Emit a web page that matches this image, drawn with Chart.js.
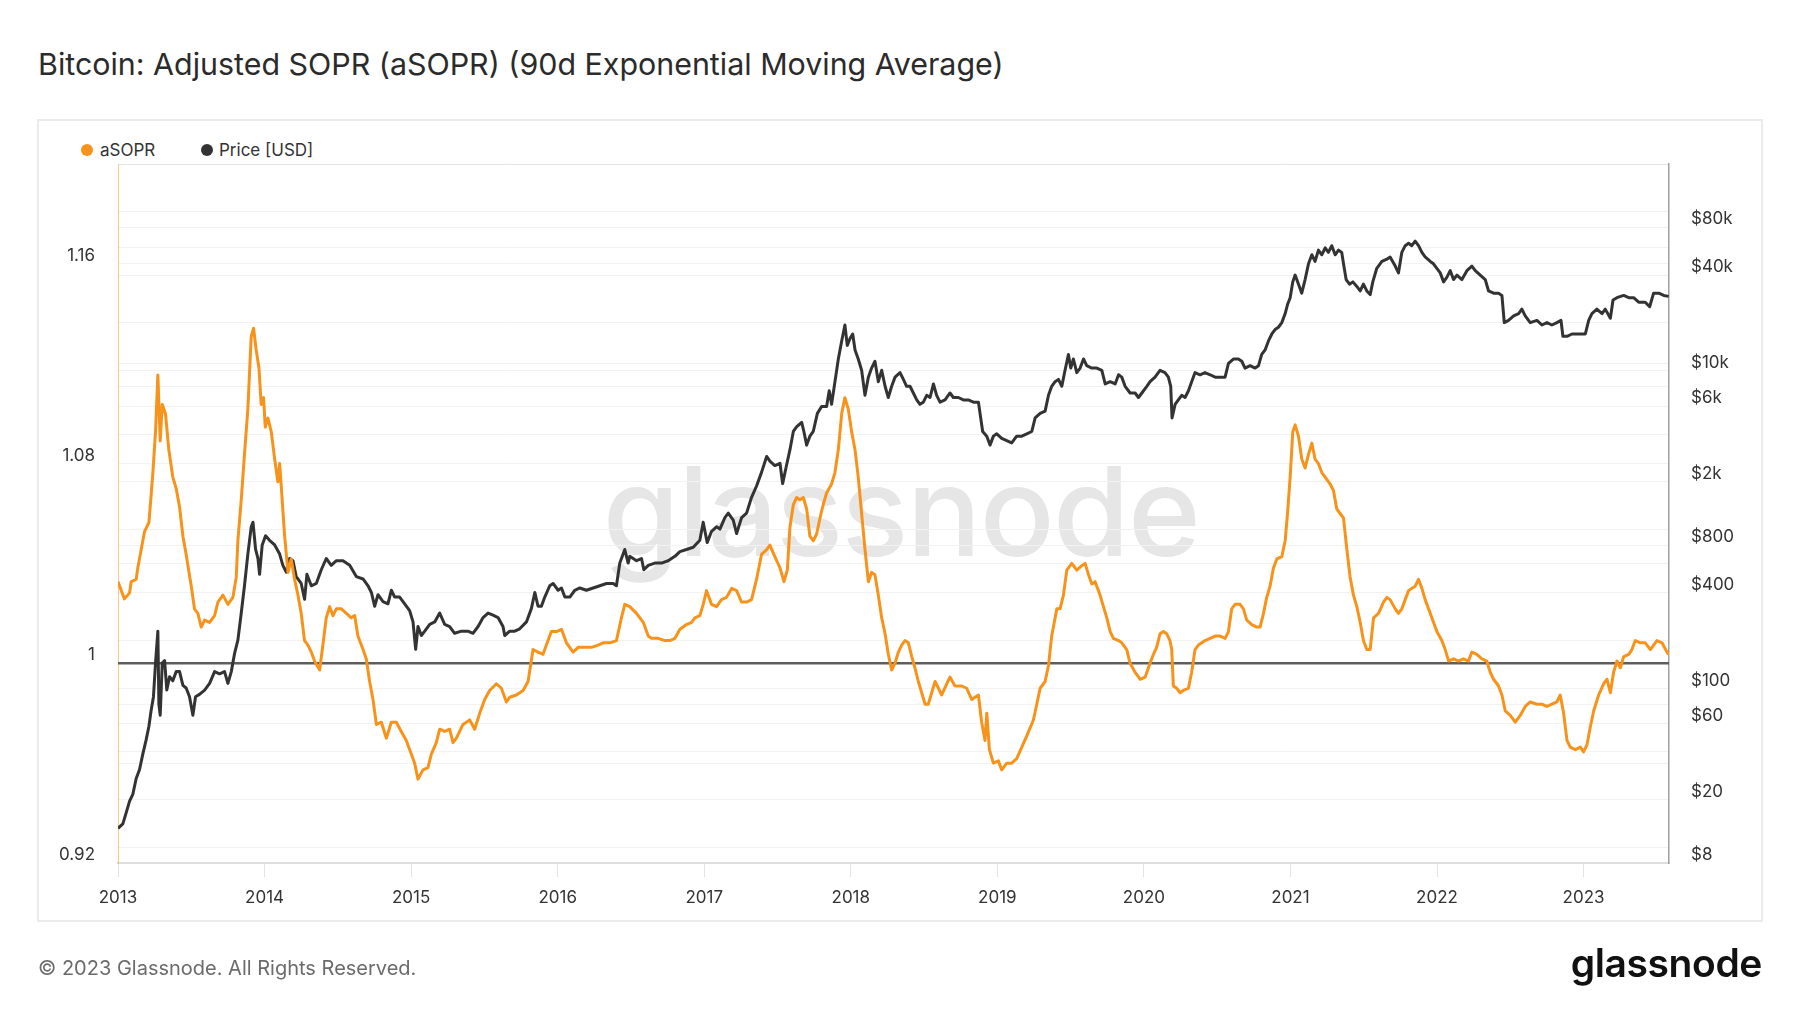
<!DOCTYPE html>
<html>
<head>
<meta charset="utf-8">
<script src="https://cdn.jsdelivr.net/npm/chart.js@4.4.0/dist/chart.umd.min.js"></script>
<style>
  html, body { margin:0; padding:0; background:#fff; }
  body { width:1800px; height:1013px; position:relative; overflow:hidden; font-family:Inter, "Noto Sans", sans-serif; }
  .abs { position:absolute; white-space:nowrap; }
  #title { left:38px; top:49px; font-size:30.4px; line-height:30px; color:#2b2b2b; }
  #box { left:37px; top:119px; width:1726px; height:803px; box-sizing:border-box; border:2px solid #ebebeb; }
  #wm { left:1px; width:1800px; text-align:center; top:449px; font-size:124px; line-height:124px; font-weight:500; color:#e6e6e6; letter-spacing:-1.6px; }
  .dot { position:absolute; width:12px; height:12px; border-radius:50%; }
  .leg { font-size:17px; line-height:17px; color:#333; top:142px; }
  #footer { left:38px; top:958px; font-size:20px; line-height:20px; color:#6b6b6b; }
  #logo { right:38px; top:943px; font-size:39px; line-height:39px; font-weight:600; color:#111; letter-spacing:-0.4px; }
  canvas { position:absolute; left:0; top:0; }
</style>
</head>
<body>
<div id="title" class="abs">Bitcoin: Adjusted SOPR (aSOPR) (90d Exponential Moving Average)</div>
<div id="box" class="abs"></div>
<div id="wm" class="abs">glassnode</div>
<div class="dot" style="left:81px;top:144px;background:#f7931a"></div>
<div class="abs leg" style="left:100px">aSOPR</div>
<div class="dot" style="left:201px;top:144px;background:#333"></div>
<div class="abs leg" style="left:219px">Price [USD]</div>
<canvas id="c" width="1800" height="1013"></canvas>
<div id="footer" class="abs">© 2023 Glassnode. All Rights Reserved.</div>
<div id="logo" class="abs">glassnode</div>
<script>
// ---- data (decimal years) ----
const asoprT = [2013.000,2013.044,2013.079,2013.090,2013.124,2013.135,2013.158,2013.181,2013.211,2013.226,2013.238,2013.256,2013.272,2013.288,2013.302,2013.324,2013.347,2013.374,2013.397,2013.420,2013.443,2013.465,2013.500,2013.522,2013.545,2013.568,2013.591,2013.625,2013.659,2013.682,2013.716,2013.750,2013.784,2013.807,2013.818,2013.841,2013.863,2013.886,2013.909,2013.925,2013.943,2013.962,2013.977,2013.993,2014.005,2014.023,2014.046,2014.069,2014.091,2014.103,2014.114,2014.137,2014.160,2014.182,2014.205,2014.228,2014.250,2014.273,2014.296,2014.319,2014.341,2014.376,2014.398,2014.421,2014.444,2014.467,2014.490,2014.524,2014.558,2014.592,2014.615,2014.637,2014.672,2014.694,2014.717,2014.740,2014.763,2014.797,2014.831,2014.865,2014.899,2014.933,2014.967,2015.002,2015.024,2015.047,2015.081,2015.115,2015.138,2015.172,2015.195,2015.229,2015.263,2015.286,2015.309,2015.354,2015.400,2015.434,2015.468,2015.502,2015.536,2015.582,2015.616,2015.650,2015.673,2015.718,2015.764,2015.798,2015.832,2015.866,2015.900,2015.923,2015.957,2015.992,2016.026,2016.060,2016.105,2016.140,2016.185,2016.231,2016.276,2016.310,2016.356,2016.401,2016.435,2016.458,
2016.492,2016.538,2016.584,2016.618,2016.640,2016.686,2016.731,2016.766,2016.800,2016.834,2016.879,2016.914,2016.936,2016.970,2016.993,2017.016,2017.050,2017.084,2017.118,2017.152,2017.187,2017.221,2017.255,2017.289,2017.323,2017.357,2017.391,2017.426,2017.448,2017.482,2017.517,2017.544,2017.567,2017.585,2017.608,2017.630,2017.653,2017.676,2017.699,2017.721,2017.744,2017.767,2017.790,2017.812,2017.835,2017.869,2017.892,2017.915,2017.938,2017.960,2017.983,2018.006,2018.029,2018.051,2018.074,2018.097,2018.120,2018.142,2018.165,2018.188,2018.211,2018.234,2018.256,2018.279,2018.302,2018.325,2018.347,2018.370,2018.393,2018.416,2018.438,2018.461,2018.484,2018.507,2018.529,2018.552,2018.575,2018.598,2018.620,2018.655,2018.677,2018.711,2018.757,2018.791,2018.825,2018.871,2018.893,2018.916,2018.928,2018.946,2018.973,2019.007,2019.030,2019.064,2019.098,2019.132,2019.167,2019.201,2019.246,2019.269,2019.292,2019.326,2019.349,2019.371,2019.406,2019.428,2019.451,2019.474,2019.508,2019.542,2019.576,2019.599,2019.622,2019.645,2019.667,2019.701,2019.724,2019.747,2019.770,2019.792,2019.827,2019.849,2019.883,2019.906,2019.940,2019.975,2020.009,
2020.042,2020.065,2020.087,2020.110,2020.133,2020.156,2020.178,2020.190,2020.201,2020.224,2020.247,2020.269,2020.304,2020.326,2020.349,2020.372,2020.395,2020.417,2020.452,2020.486,2020.520,2020.554,2020.577,2020.599,2020.622,2020.656,2020.679,2020.702,2020.736,2020.770,2020.793,2020.816,2020.838,2020.861,2020.884,2020.907,2020.941,2020.964,2020.980,2020.998,2021.016,2021.032,2021.055,2021.077,2021.100,2021.123,2021.146,2021.168,2021.191,2021.214,2021.237,2021.271,2021.294,2021.316,2021.339,2021.362,2021.385,2021.407,2021.430,2021.453,2021.476,2021.498,2021.521,2021.544,2021.567,2021.601,2021.635,2021.658,2021.680,2021.715,2021.737,2021.760,2021.783,2021.806,2021.828,2021.851,2021.874,2021.897,2021.919,2021.954,2021.976,2021.999,2022.033,2022.056,2022.079,2022.113,2022.147,2022.181,2022.215,2022.238,2022.272,2022.306,2022.340,2022.363,2022.386,2022.420,2022.443,2022.466,2022.500,2022.534,2022.568,2022.602,2022.636,2022.682,2022.716,2022.750,2022.784,2022.818,2022.841,2022.864,2022.887,2022.909,2022.944,2022.978,2023.000,2023.023,2023.046,2023.069,2023.103,2023.137,2023.160,2023.183,2023.205,2023.228,2023.251,2023.274,2023.308,2023.330,2023.353,2023.387,2023.421,2023.456,2023.478,2023.501,2023.535,2023.569,2023.581];
const asoprV = [1.0327,1.0258,1.0282,1.0327,1.0336,1.0382,1.0455,1.0527,1.0564,1.0673,1.0764,1.0927,1.1155,1.0891,1.1037,1.1000,1.0855,1.0746,1.0700,1.0627,1.0509,1.0436,1.0309,1.0218,1.0200,1.0145,1.0173,1.0164,1.0191,1.0245,1.0273,1.0236,1.0264,1.0346,1.0491,1.0655,1.0837,1.1018,1.1309,1.1342,1.1255,1.1182,1.1037,1.1064,1.0946,1.0982,1.0927,1.0818,1.0727,1.0800,1.0709,1.0509,1.0364,1.0418,1.0336,1.0273,1.0200,1.0091,1.0073,1.0045,1.0009,0.9973,1.0073,1.0182,1.0227,1.0191,1.0218,1.0218,1.0200,1.0182,1.0191,1.0109,1.0055,1.0018,0.9927,0.9855,0.9755,0.9764,0.9700,0.9764,0.9764,0.9727,0.9691,0.9636,0.9600,0.9536,0.9573,0.9582,0.9636,0.9682,0.9736,0.9727,0.9736,0.9682,0.9700,0.9755,0.9773,0.9736,0.9800,0.9855,0.9891,0.9918,0.9900,0.9845,0.9864,0.9873,0.9891,0.9927,1.0055,1.0045,1.0036,1.0073,1.0127,1.0127,1.0136,1.0082,1.0045,1.0064,1.0064,1.0064,1.0073,1.0082,1.0082,1.0091,1.0182,1.0236,
1.0227,1.0200,1.0164,1.0109,1.0100,1.0100,1.0091,1.0091,1.0100,1.0136,1.0155,1.0164,1.0182,1.0191,1.0236,1.0291,1.0236,1.0227,1.0255,1.0264,1.0300,1.0291,1.0245,1.0245,1.0255,1.0336,1.0436,1.0455,1.0473,1.0427,1.0382,1.0327,1.0373,1.0546,1.0636,1.0664,1.0655,1.0664,1.0618,1.0509,1.0491,1.0518,1.0582,1.0636,1.0682,1.0718,1.0764,1.0855,1.1000,1.1064,1.1018,1.0927,1.0855,1.0746,1.0600,1.0455,1.0327,1.0364,1.0355,1.0273,1.0182,1.0118,1.0036,0.9973,1.0000,1.0045,1.0073,1.0091,1.0082,1.0027,0.9982,0.9927,0.9882,0.9836,0.9836,0.9882,0.9927,0.9900,0.9873,0.9918,0.9945,0.9909,0.9909,0.9900,0.9855,0.9873,0.9764,0.9691,0.9800,0.9654,0.9600,0.9609,0.9573,0.9600,0.9600,0.9618,0.9664,0.9709,0.9773,0.9836,0.9900,0.9927,0.9991,1.0109,1.0218,1.0218,1.0273,1.0373,1.0400,1.0373,1.0391,1.0400,1.0355,1.0318,1.0327,1.0273,1.0227,1.0182,1.0127,1.0100,1.0091,1.0082,1.0055,1.0000,0.9964,0.9936,0.9945,
1.0000,1.0036,1.0064,1.0118,1.0127,1.0118,1.0091,1.0055,0.9909,0.9900,0.9882,0.9891,0.9900,0.9964,1.0055,1.0073,1.0082,1.0091,1.0100,1.0109,1.0109,1.0100,1.0127,1.0218,1.0236,1.0236,1.0218,1.0173,1.0155,1.0145,1.0145,1.0200,1.0264,1.0309,1.0382,1.0418,1.0427,1.0491,1.0600,1.0746,1.0927,1.0955,1.0909,1.0818,1.0782,1.0837,1.0882,1.0818,1.0800,1.0764,1.0746,1.0718,1.0691,1.0618,1.0600,1.0582,1.0455,1.0346,1.0273,1.0227,1.0164,1.0091,1.0055,1.0055,1.0182,1.0200,1.0245,1.0264,1.0255,1.0218,1.0200,1.0218,1.0255,1.0291,1.0300,1.0309,1.0336,1.0300,1.0255,1.0200,1.0164,1.0127,1.0091,1.0055,1.0009,1.0018,1.0009,1.0018,1.0009,1.0045,1.0036,1.0018,1.0009,0.9964,0.9936,0.9909,0.9873,0.9809,0.9791,0.9764,0.9791,0.9827,0.9845,0.9836,0.9836,0.9827,0.9836,0.9845,0.9873,0.9800,0.9691,0.9664,0.9654,0.9664,0.9645,0.9673,0.9745,0.9809,0.9873,0.9918,0.9936,0.9882,0.9964,1.0009,0.9982,1.0027,1.0036,1.0055,1.0091,1.0082,1.0082,1.0055,1.0073,1.0091,1.0082,1.0045,1.0036];

const priceT = [2013.000,2013.033,2013.056,2013.079,2013.101,2013.124,2013.147,2013.170,2013.192,2013.211,2013.226,2013.242,2013.256,2013.272,2013.279,2013.288,2013.302,2013.318,2013.333,2013.352,2013.374,2013.397,2013.420,2013.443,2013.465,2013.488,2013.511,2013.529,2013.556,2013.591,2013.625,2013.659,2013.693,2013.727,2013.750,2013.773,2013.795,2013.818,2013.841,2013.863,2013.886,2013.909,2013.921,2013.939,2013.955,2013.966,2013.984,2014.007,2014.034,2014.069,2014.103,2014.125,2014.148,2014.171,2014.194,2014.216,2014.250,2014.273,2014.289,2014.319,2014.353,2014.387,2014.421,2014.455,2014.490,2014.535,2014.581,2014.626,2014.672,2014.706,2014.729,2014.751,2014.774,2014.808,2014.842,2014.865,2014.888,2014.922,2014.956,2014.990,2015.013,2015.031,2015.047,2015.070,2015.093,2015.127,2015.161,2015.195,2015.229,2015.263,2015.297,2015.343,2015.388,2015.422,2015.457,2015.491,2015.525,2015.559,2015.593,2015.627,2015.639,2015.673,2015.707,2015.741,2015.787,2015.821,2015.844,2015.866,2015.889,2015.912,2015.946,2015.969,2016.003,2016.026,2016.049,2016.083,2016.117,2016.151,2016.196,2016.242,2016.288,2016.333,2016.379,2016.401,2016.424,2016.458,2016.481,
2016.492,2016.538,2016.572,2016.588,2016.618,2016.663,2016.709,2016.754,2016.800,2016.834,2016.879,2016.925,2016.970,2016.993,2017.020,2017.050,2017.084,2017.107,2017.141,2017.164,2017.198,2017.221,2017.255,2017.289,2017.323,2017.357,2017.391,2017.426,2017.448,2017.482,2017.517,2017.535,2017.558,2017.585,2017.608,2017.630,2017.665,2017.680,2017.699,2017.721,2017.744,2017.772,2017.801,2017.835,2017.853,2017.869,2017.892,2017.915,2017.938,2017.960,2017.976,2017.995,2018.013,2018.029,2018.051,2018.074,2018.097,2018.120,2018.142,2018.165,2018.188,2018.211,2018.234,2018.256,2018.279,2018.302,2018.336,2018.359,2018.381,2018.404,2018.427,2018.450,2018.472,2018.495,2018.518,2018.541,2018.564,2018.586,2018.609,2018.643,2018.677,2018.700,2018.734,2018.768,2018.802,2018.837,2018.871,2018.882,2018.900,2018.928,2018.950,2018.973,2018.996,2019.030,2019.064,2019.098,2019.132,2019.167,2019.201,2019.235,2019.258,2019.292,2019.326,2019.349,2019.371,2019.394,2019.417,2019.440,2019.462,2019.485,2019.501,2019.519,2019.542,2019.565,2019.588,2019.610,2019.644,2019.679,2019.713,2019.736,2019.770,2019.804,2019.827,2019.849,2019.872,2019.906,2019.940,2019.963,2019.986,2020.020,
2020.042,2020.076,2020.110,2020.144,2020.167,2020.183,2020.192,2020.213,2020.235,2020.258,2020.281,2020.304,2020.326,2020.349,2020.383,2020.417,2020.452,2020.486,2020.531,2020.554,2020.577,2020.611,2020.645,2020.668,2020.690,2020.725,2020.759,2020.782,2020.804,2020.827,2020.850,2020.873,2020.895,2020.918,2020.941,2020.964,2020.980,2020.998,2021.016,2021.032,2021.055,2021.077,2021.100,2021.123,2021.146,2021.168,2021.191,2021.214,2021.237,2021.259,2021.282,2021.305,2021.328,2021.350,2021.362,2021.380,2021.403,2021.426,2021.453,2021.476,2021.498,2021.521,2021.544,2021.562,2021.589,2021.624,2021.658,2021.680,2021.715,2021.737,2021.760,2021.783,2021.806,2021.828,2021.851,2021.874,2021.897,2021.919,2021.954,2021.976,2021.999,2022.022,2022.045,2022.067,2022.090,2022.113,2022.136,2022.170,2022.204,2022.238,2022.261,2022.295,2022.329,2022.352,2022.386,2022.420,2022.443,2022.459,2022.488,2022.523,2022.557,2022.579,2022.602,2022.636,2022.682,2022.716,2022.750,2022.784,2022.818,2022.846,2022.859,2022.887,2022.921,2022.955,2022.989,2023.012,2023.035,2023.057,2023.091,2023.126,2023.148,2023.183,2023.201,2023.228,2023.274,2023.308,2023.342,2023.376,2023.421,2023.451,2023.478,2023.513,2023.547,2023.581];
const priceV = [13.2,14.1,16.6,19.6,21.6,27.2,31,39,47.6,58,73,89,145,230,80,68,145,150,98,119,112,128,128,105,101,89,68,89,92,98,108,128,124,128,108,128,166,202,299,444,703,1043,1114,751,659,524,802,916,858,802,703,597,541,659,638,507,459,365,524,444,459,560,659,597,638,638,597,507,490,444,403,330,390,353,342,416,377,377,342,310,263,177,246,216,230,254,263,299,254,246,223,230,230,223,246,280,299,290,280,246,216,230,230,238,263,320,403,330,330,377,444,459,416,430,377,377,416,430,416,430,444,459,459,444,617,751,617,
680,638,659,560,597,617,617,638,680,728,751,776,858,1114,830,977,1043,1009,1191,1271,1151,946,1191,1271,1600,1884,2295,2890,2705,2535,2618,1950,2453,3190,4150,4430,4730,4150,3407,3880,4150,5395,5957,5957,7490,6155,8540,11850,15410,19400,14450,15960,17040,13530,11860,10070,7010,9120,10400,11480,8540,10070,7990,6790,7990,9120,9740,8830,7990,7990,7250,6560,6150,6350,7010,6790,8260,7010,6350,6560,7250,6790,6790,6560,6560,6350,6350,5395,4150,3880,3407,3880,4015,3760,3635,3515,3880,3880,4015,4150,5050,5395,5570,7010,7990,8540,8830,7990,10070,12670,10400,11860,9740,10400,11860,10770,10400,10400,10070,8260,8540,8260,9440,9120,7990,7250,7250,6790,7250,7990,
8540,9120,10070,9740,9120,7990,5050,6150,6560,7010,6790,7490,8540,9740,9440,9740,9440,9120,9120,9120,11120,11860,11860,11480,10400,10770,10400,10770,12670,13530,15410,17040,18180,18790,20090,22910,26120,28840,36260,40000,35080,30780,37500,47100,53700,48750,57410,53700,59300,55600,61240,53700,57410,55600,47100,37500,35080,36260,33960,31790,35080,31790,30150,36260,44150,48750,50350,52000,45600,41300,55600,61240,63400,61240,65460,61240,55600,52000,48750,47100,44150,41300,36260,38700,42660,37500,40000,37500,42660,45600,42660,40000,37500,31790,30780,30780,29800,20090,20750,22150,22910,24430,22150,20090,20750,19410,20090,19410,20090,20750,16480,16480,17040,17040,17040,17040,20750,22910,24430,22910,24430,21430,27870,28840,29800,28840,28840,27000,27000,25290,30780,30780,29800,29380];

const yearTicks = [2013,2014,2015,2016,2017,2018,2019,2020,2021,2022,2023];
const xRange = [2013.0, 2023.583];
const asoprRange = [0.92, 1.2];
const asoprGrid = [0.92,0.96,1.00,1.04,1.08,1.12,1.16,1.20];
const asoprLabels = [0.92,1.00,1.08,1.16];
const priceRange = [8, 200000];
const priceGrid = [8,10,20,40,60,80,100,200,400,800,1000,2000,4000,6000,8000,10000,20000,40000,60000,80000,100000];
const priceLabels = [8,20,60,100,400,800,2000,6000,10000,40000,80000];
const REF_LEVEL = 1;

const tickFont = { family: 'Inter', size: 17 };
const near = (a, b) => Math.abs(a - b) < 1e-9 * Math.max(1, Math.abs(b));

const refLine = {
  id: 'refLine',
  beforeDatasetsDraw(chart) {
    const { ctx, chartArea } = chart;
    const y = chart.scales.y.getPixelForValue(REF_LEVEL);
    ctx.save();
    ctx.strokeStyle = '#5e5e5e';
    ctx.lineWidth = 2.5;
    ctx.beginPath();
    ctx.moveTo(chartArea.left, y);
    ctx.lineTo(chartArea.right, y);
    ctx.stroke();
    ctx.restore();
  }
};

new Chart(document.getElementById('c'), {
  type: 'line',
  data: {
    datasets: [
      { label: 'aSOPR', data: asoprT.map((t, i) => ({ x: t, y: asoprV[i] })), yAxisID: 'y',
        borderColor: '#f7931a', borderWidth: 3, pointRadius: 0, tension: 0, fill: false, borderJoinStyle: 'round' },
      { label: 'Price [USD]', data: priceT.map((t, i) => ({ x: t, y: priceV[i] })), yAxisID: 'y1',
        borderColor: '#333333', borderWidth: 3, pointRadius: 0, tension: 0, fill: false, borderJoinStyle: 'round' }
    ]
  },
  options: {
    responsive: false,
    animation: false,
    devicePixelRatio: 1,
    layout: { padding: { left: 0, right: 0, top: 164, bottom: 100 } },
    plugins: { legend: { display: false }, tooltip: { enabled: false } },
    scales: {
      x: {
        type: 'linear', min: xRange[0], max: xRange[1],
        afterBuildTicks: s => { s.ticks = yearTicks.map(v => ({ value: v })); },
        afterFit: s => { s.height = 50; },
        ticks: { callback: v => String(v), autoSkip: false, maxRotation: 0, padding: 11, font: tickFont, color: '#333' },
        grid: { drawOnChartArea: false, drawTicks: true, tickLength: 14, color: '#e3e3e3' },
        border: { color: '#dedede', width: 2 }
      },
      y: {
        type: 'linear', position: 'left', min: asoprRange[0], max: asoprRange[1],
        afterBuildTicks: s => { s.ticks = asoprGrid.map(v => ({ value: v })); },
        afterFit: s => { s.width = 118; },
        ticks: {
          autoSkip: false, padding: 23, labelOffset: -8, font: tickFont, color: '#333',
          callback: v => asoprLabels.some(l => near(l, v)) ? (near(v, 1) ? '1' : v.toFixed(2)) : ''
        },
        grid: { drawTicks: false, color: ctx => (ctx.tick && near(ctx.tick.value, 1.2)) ? '#e4e4e4' : '#f2f2f2' },
        border: { color: 'rgba(247,147,26,0.5)', width: 1 }
      },
      y1: {
        type: 'logarithmic', position: 'right', min: priceRange[0], max: priceRange[1],
        afterBuildTicks: s => { s.ticks = priceGrid.map(v => ({ value: v })); },
        afterFit: s => { s.width = 131; },
        ticks: {
          autoSkip: false, padding: 22, labelOffset: -8, font: tickFont, color: '#333',
          callback: v => priceLabels.some(l => near(l, v)) ? (v >= 1000 ? '$' + (v / 1000) + 'k' : '$' + v) : ''
        },
        grid: { drawTicks: false, color: '#f2f2f2' },
        border: { color: '#a0a0a0', width: 1.5 }
      }
    }
  },
  plugins: [refLine]
});
</script>
</body>
</html>
